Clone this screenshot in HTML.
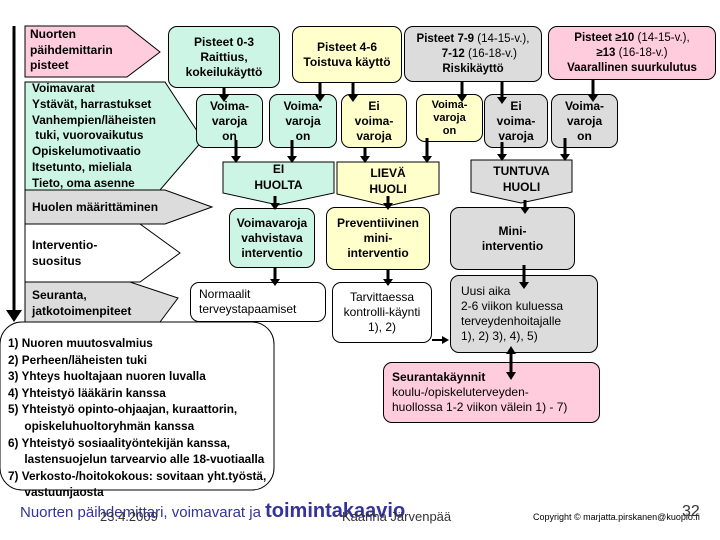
<!DOCTYPE html>
<html><head><meta charset="utf-8"><style>
body{margin:0;width:720px;height:540px;background:#fff;position:relative;overflow:hidden;font-family:"Liberation Sans",sans-serif;}
.b{position:absolute;box-sizing:border-box;border:1px solid #000;border-radius:9px;text-align:center;font-weight:bold;font-size:12px;line-height:15px;display:flex;align-items:center;justify-content:center;}
.m{background:#ccf5e6}.y{background:#ffffcc}.g{background:#dcdcdc}.p{background:#ffccdd}.w{background:#fff}
.t{position:absolute;font-weight:bold;font-size:12px;line-height:15.5px;white-space:nowrap}
.n{font-weight:normal}
</style></head><body>
<svg width="720" height="540" style="position:absolute;left:0;top:0">
<line x1="14" y1="26" x2="14" y2="312" stroke="#000" stroke-width="3"/>
<path d="M6,310L22,310L14,322z"/>
<polygon points="25,26 127,26 160,52 127,77 25,77" fill="#ffccdd" stroke="#000"/>
<polygon points="25,82 165,82 203,140 160,190 25,190" fill="#ccf5e6" stroke="#000"/>
<polygon points="25,190 165,190 212,207 165,224 25,224" fill="#dcdcdc" stroke="#000"/>
<polygon points="25,224 140,224 180,253 140,282 25,282" fill="#fff" stroke="#000"/>
<polygon points="25,282 130,282 178,298 160,322 25,322" fill="#dcdcdc" stroke="#000"/>
<polygon points="223,162 334,162 334,193 278,205 223,193" fill="#ccf5e6" stroke="#000"/>
<polygon points="337,162 439,162 439,194 388,206 337,194" fill="#ffffcc" stroke="#000"/>
<polygon points="471,160 572,160 572,192 521,203 471,192" fill="#dcdcdc" stroke="#000"/>
<rect x="0" y="322" width="274" height="168" rx="22" fill="#fff" stroke="#000"/>
</svg>
<div class="t" style="left:30px;top:27px">Nuorten<br>päihdemittarin<br>pisteet</div>
<div class="t" style="left:32px;top:81px;line-height:15.8px;font-size:11.8px">Voimavarat<br>Ystävät, harrastukset<br>Vanhempien/läheisten<br>&nbsp;tuki, vuorovaikutus<br>Opiskelumotivaatio<br>Itsetunto, mieliala<br>Tieto, oma asenne</div>
<div class="t" style="left:32px;top:200px">Huolen määrittäminen</div>
<div class="t" style="left:32px;top:238px">Interventio-<br>suositus</div>
<div class="t" style="left:32px;top:288px">Seuranta,<br>jatkotoimenpiteet</div>
<div class="b m" style="left:168px;top:26px;width:112px;height:62px"><div>Pisteet 0-3<br>Raittius,<br>kokeilukäyttö</div></div>
<div class="b y" style="left:292px;top:26px;width:110px;height:57px"><div>Pisteet 4-6<br>Toistuva käyttö</div></div>
<div class="b g" style="left:404px;top:26px;width:138px;height:56px;font-size:11.5px"><div>Pisteet 7-9 <span class="n">(14-15-v.),</span><br>&nbsp;&nbsp;&nbsp;&nbsp;7-12 <span class="n">(16-18-v.)</span><br>Riskikäyttö</div></div>
<div class="b p" style="left:548px;top:26px;width:168px;height:54px;font-size:11.5px"><div>Pisteet ≥10 <span class="n">(14-15-v.),</span><br>≥13 <span class="n">(16-18-v.)</span><br>Vaarallinen suurkulutus</div></div>
<div class="b m" style="left:196px;top:94px;width:67px;height:54px"><div>Voima-<br>varoja<br>on</div></div>
<div class="b m" style="left:269px;top:94px;width:68px;height:54px"><div>Voima-<br>varoja<br>on</div></div>
<div class="b y" style="left:341px;top:94px;width:66px;height:54px"><div>Ei<br>voima-<br>varoja</div></div>
<div class="b y" style="left:416px;top:94px;width:67px;height:48px;font-size:11px;line-height:13px"><div>Voima-<br>varoja<br>on</div></div>
<div class="b g" style="left:484px;top:94px;width:64px;height:54px"><div>Ei<br>voima-<br>varoja</div></div>
<div class="b g" style="left:551px;top:94px;width:67px;height:54px"><div>Voima-<br>varoja<br>on</div></div>
<div class="t" style="left:223px;top:162px;width:111px;text-align:center">EI<br>HUOLTA</div>
<div class="t" style="left:337px;top:166px;width:102px;text-align:center">LIEVÄ<br>HUOLI</div>
<div class="t" style="left:471px;top:164px;width:101px;text-align:center">TUNTUVA<br>HUOLI</div>
<div class="b m" style="left:229px;top:208px;width:86px;height:60px"><div>Voimavaroja<br>vahvistava<br>interventio</div></div>
<div class="b y" style="left:326px;top:207px;width:104px;height:63px"><div>Preventiivinen<br>mini-<br>interventio</div></div>
<div class="b g" style="left:450px;top:207px;width:125px;height:63px"><div>Mini-<br>interventio</div></div>
<div class="b w" style="left:190px;top:282px;width:136px;height:40px;font-weight:normal;justify-content:flex-start;text-align:left;padding-left:8px"><div>Normaalit<br>terveystapaamiset</div></div>
<div class="b w" style="left:332px;top:282px;width:100px;height:61px;font-weight:normal"><div>Tarvittaessa<br>kontrolli-käynti<br>1), 2)</div></div>
<div class="b g" style="left:450px;top:275px;width:148px;height:78px;font-weight:normal;justify-content:flex-start;text-align:left;padding-left:10px"><div>Uusi aika<br>2-6 viikon kuluessa<br>terveydenhoitajalle<br>1), 2) 3), 4), 5)</div></div>
<div class="b p" style="left:383px;top:362px;width:217px;height:61px;font-weight:normal;justify-content:flex-start;text-align:left;padding-left:8px"><div><b>Seurantakäynnit</b><br>koulu-/opiskeluterveyden-<br>huollossa 1-2 viikon välein 1) - 7)</div></div>
<div class="t" style="left:8px;top:335px;line-height:16.6px;font-size:11.8px">1) Nuoren muutosvalmius<br>2) Perheen/läheisten tuki<br>3) Yhteys huoltajaan nuoren luvalla<br>4) Yhteistyö lääkärin kanssa<br>5) Yhteistyö opinto-ohjaajan, kuraattorin,<br>&nbsp;&nbsp;&nbsp;&nbsp;&nbsp;opiskeluhuoltoryhmän kanssa<br>6) Yhteistyö sosiaalityöntekijän kanssa,<br>&nbsp;&nbsp;&nbsp;&nbsp;&nbsp;lastensuojelun tarvearvio alle 18-vuotiaalla<br>7) Verkosto-/hoitokokous: sovitaan yht.työstä,<br>&nbsp;&nbsp;&nbsp;&nbsp;&nbsp;vastuunjaosta</div>
<div style="position:absolute;left:20px;top:500px;font-size:15px;color:#333399;white-space:nowrap">Nuorten päihdemittari, voimavarat ja <b style="font-size:20px">toimintakaavio</b></div>
<div style="position:absolute;left:100px;top:509px;font-size:13px;color:#333;">23.4.2009</div>
<div style="position:absolute;left:342px;top:509px;font-size:13px;color:#333;">Kaarina Järvenpää</div>
<div style="position:absolute;left:533px;top:512px;font-size:9px;color:#000;">Copyright © marjatta.pirskanen@kuopio.fi</div>
<div style="position:absolute;left:682px;top:503px;font-size:16px;color:#333;">32</div>
<svg width="720" height="540" style="position:absolute;left:0;top:0">
<g stroke="#000" stroke-width="3">
<line x1="224" y1="88" x2="224" y2="96"/><line x1="320" y1="83" x2="320" y2="96"/><line x1="353" y1="83" x2="353" y2="96"/>
<line x1="462" y1="82" x2="462" y2="96"/><line x1="502" y1="82" x2="502" y2="98"/><line x1="593" y1="80" x2="593" y2="96"/>
<line x1="236" y1="140" x2="236" y2="157"/><line x1="292" y1="140" x2="292" y2="157"/>
<line x1="365" y1="148" x2="365" y2="157"/><line x1="427" y1="138" x2="427" y2="157"/>
<line x1="502" y1="142" x2="502" y2="155"/><line x1="565" y1="138" x2="565" y2="155"/>
<line x1="275" y1="196" x2="275" y2="204"/><line x1="388" y1="196" x2="388" y2="204"/><line x1="525" y1="200" x2="525" y2="208"/>
<line x1="275" y1="268" x2="275" y2="280"/><line x1="388" y1="270" x2="388" y2="280"/><line x1="524" y1="265" x2="524" y2="283"/>
<line x1="432" y1="340" x2="443" y2="340" stroke-width="2"/>
<line x1="511" y1="352" x2="511" y2="373"/>
</g>
<g>
<path d="M219,95h10l-5,7z"/><path d="M315,95h10l-5,7z"/><path d="M348,95h10l-5,7z"/><path d="M457,95h10l-5,7z"/><path d="M497,97h10l-5,7z"/><path d="M588,95h10l-5,7z"/>
<path d="M231,156h10l-5,7z"/><path d="M287,156h10l-5,7z"/><path d="M360,156h10l-5,7z"/><path d="M422,156h10l-5,7z"/><path d="M497,154h10l-5,7z"/><path d="M560,154h10l-5,7z"/>
<path d="M270,203h10l-5,7z"/><path d="M383,203h10l-5,7z"/><path d="M520,207h10l-5,7z"/>
<path d="M270,279h10l-5,7z"/><path d="M383,279h10l-5,7z"/><path d="M519,282h10l-5,7z"/>
<path d="M442,336v8l7,-4z"/>
<path d="M506,354h10l-5,-8z"/><path d="M506,372h10l-5,8z"/>
</g></svg>
</body></html>
